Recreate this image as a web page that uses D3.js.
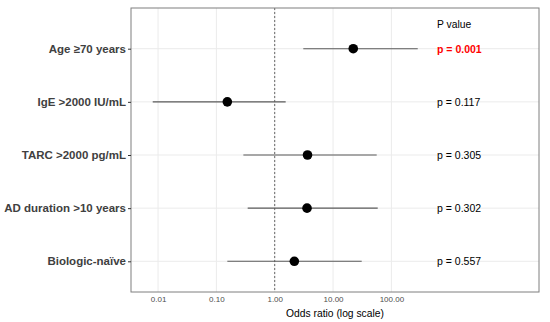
<!DOCTYPE html>
<html>
<head>
<meta charset="utf-8">
<script src="https://cdn.jsdelivr.net/npm/d3@7"></script>
<style>
  html, body { margin: 0; padding: 0; background: #fff; }
  svg { display: block; font-family: "Liberation Sans", Arial, sans-serif; }
</style>
</head>
<body>
<svg id="chart" width="550" height="322"></svg>
<script>
// ---- Data ----
const categories = ["Age \u226570 years", "IgE >2000 IU/mL", "TARC >2000 pg/mL", "AD duration >10 years", "Biologic-na\u00efve"];
const oddsRatio  = [22.2, 0.154, 3.65, 3.58, 2.17];
const ciLower    = [3.09, 0.0081, 0.29, 0.344, 0.154];
const ciUpper    = [283, 1.54, 56, 58.3, 31];
const pLabels    = ["p = 0.001", "p = 0.117", "p = 0.305", "p = 0.302", "p = 0.557"];
const pSignificant = [true, false, false, false, false];
const xTicks     = [0.01, 0.1, 1, 10, 100];
const xTickLabels = ["0.01", "0.10", "1.00", "10.00", "100.00"];
const pHeader = "P value";
const xTitle = "Odds ratio (log scale)";

// ---- Layout ----
const panel = { left: 131, right: 539, top: 8, bottom: 292 };
const svg = d3.select("#chart");

const x = d3.scaleLog()
  .domain([Math.pow(10, -2.464), Math.pow(10, 4.531)])
  .range([panel.left, panel.right]);

const y = d3.scalePoint()
  .domain(categories)
  .range([48.7, 261.3]);

const rows = categories.map((c, i) => ({
  cat: c, or: oddsRatio[i], lo: ciLower[i], hi: ciUpper[i], p: pLabels[i], sig: pSignificant[i]
}));

// grid
const grid = svg.append("g");
grid.selectAll("line.vg").data(xTicks).enter().append("line")
  .attr("x1", d => x(d)).attr("x2", d => x(d))
  .attr("y1", panel.top).attr("y2", panel.bottom)
  .attr("stroke", "#ebebeb").attr("stroke-width", 1);
grid.selectAll("line.hg").data(categories).enter().append("line")
  .attr("x1", panel.left).attr("x2", panel.right)
  .attr("y1", d => y(d)).attr("y2", d => y(d))
  .attr("stroke", "#ebebeb").attr("stroke-width", 1);

// reference line at OR = 1
svg.append("line")
  .attr("x1", x(1)).attr("x2", x(1))
  .attr("y1", panel.top).attr("y2", panel.bottom)
  .attr("stroke", "#666").attr("stroke-width", 1)
  .attr("stroke-dasharray", "2,2");

// CI lines
svg.append("g").selectAll("line").data(rows).enter().append("line")
  .attr("x1", d => x(d.lo)).attr("x2", d => x(d.hi))
  .attr("y1", d => y(d.cat)).attr("y2", d => y(d.cat))
  .attr("stroke", "#5a5a5a").attr("stroke-width", 1.1);

// points
svg.append("g").selectAll("circle").data(rows).enter().append("circle")
  .attr("cx", d => x(d.or)).attr("cy", d => y(d.cat))
  .attr("r", 4.8).attr("fill", "#000");

// p-values
const pX = 437;
svg.append("text")
  .attr("x", pX).attr("y", 24)
  .attr("dominant-baseline", "central")
  .attr("font-size", "10.3px").attr("fill", "#000")
  .text(pHeader);
svg.append("g").selectAll("text").data(rows).enter().append("text")
  .attr("x", pX).attr("y", d => y(d.cat))
  .attr("dominant-baseline", "central")
  .attr("font-size", "10.5px")
  .attr("font-weight", d => d.sig ? "bold" : "normal")
  .attr("fill", d => d.sig ? "#ff0000" : "#000")
  .text(d => d.p);

// panel border
svg.append("rect")
  .attr("x", panel.left).attr("y", panel.top)
  .attr("width", panel.right - panel.left).attr("height", panel.bottom - panel.top)
  .attr("fill", "none").attr("stroke", "#7f7f7f").attr("stroke-width", 1);

// y axis
const yAxis = svg.append("g").attr("transform", `translate(${panel.left},0)`)
  .call(d3.axisLeft(y).tickSize(3).tickPadding(2));
yAxis.select(".domain").remove();
yAxis.selectAll(".tick line").attr("stroke", "#333");
yAxis.selectAll(".tick text")
  .attr("font-family", "'Liberation Sans', Arial, sans-serif")
  .attr("font-size", "11.5px").attr("font-weight", "bold").attr("fill", "#404040");

// x axis
const xAxis = svg.append("g").attr("transform", `translate(0,${panel.bottom})`)
  .call(d3.axisBottom(x).tickValues(xTicks).tickFormat((d, i) => xTickLabels[i]).tickSize(0).tickPadding(4));
xAxis.select(".domain").remove();
xAxis.selectAll(".tick text")
  .attr("font-family", "'Liberation Sans', Arial, sans-serif")
  .attr("font-size", "8px").attr("fill", "#4d4d4d");

// x title
svg.append("text")
  .attr("x", (panel.left + panel.right) / 2).attr("y", 313)
  .attr("text-anchor", "middle").attr("dominant-baseline", "central")
  .attr("font-size", "10.3px").attr("fill", "#000")
  .text(xTitle);
</script>
</body>
</html>
